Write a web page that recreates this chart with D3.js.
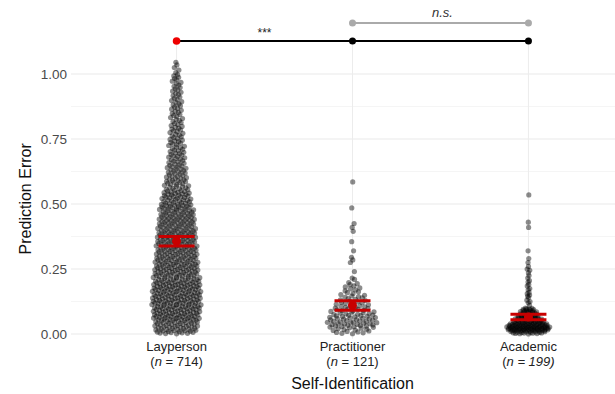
<!DOCTYPE html>
<html><head><meta charset="utf-8">
<script src="https://cdn.jsdelivr.net/npm/d3@7"></script>
<style>body{margin:0;background:#fff}svg{display:block}text{font-family:"Liberation Sans",Arial,sans-serif}</style>
</head><body><svg id="c" width="615" height="394"></svg>
<script>
// ---- data ----
const categories = ["Layperson", "Practitioner", "Academic"];
const groupSizes = ["714", "121", "199"];
const yTicks = [0, 0.25, 0.5, 0.75, 1.0];
// Layperson: histogram counts, bins of 0.05 starting at 0
const layBinWidth = 0.05;
const layCounts = [50, 61, 63, 62, 55, 53, 50, 48, 45, 42, 35, 26, 22, 19, 17, 15, 13, 12, 11, 10, 5];
// Practitioner: histogram of the bulk (bins of 0.025) + individually read tail points
const pracBinWidth = 0.025;
const pracCounts = [14, 22, 20, 16, 13, 10, 7, 6];
const pracTail = [0.585, 0.485, 0.425, 0.41, 0.395, 0.355, 0.32, 0.295, 0.285, 0.275, 0.24, 0.215, 0.21];
// Academic: histogram of the bulk (bins of 0.0125) + individually read tail points
const acadBinWidth = 0.0125;
const acadCounts = [20, 38, 34, 24, 18, 15, 12, 11];
const acadTail = [0.535, 0.43, 0.41, 0.32, 0.29, 0.275, 0.26, 0.25, 0.245, 0.235, 0.225, 0.215, 0.205, 0.2,
  0.19, 0.185, 0.175, 0.17, 0.16, 0.155, 0.15, 0.145, 0.14, 0.13, 0.125, 0.12, 0.11];
const sigLabels = ["***", "n.s."];

// ---- build value lists ----
function fromBins(counts, bw) {
  const out = [];
  counts.forEach((c, b) => { for (let j = 0; j < c; j++) out.push(b * bw + bw * (j + 0.5) / c); });
  return out;
}
const groups = [
  fromBins(layCounts, layBinWidth),
  fromBins(pracCounts, pracBinWidth).concat(pracTail),
  fromBins(acadCounts, acadBinWidth).concat(acadTail)
];

const svg = d3.select("#c");
const W = 615;
const panelL = 71, panelR = 634;
const x = d3.scalePoint().domain(categories).range([panelL, panelR]).padding(0.6);
const y = d3.scaleLinear().domain([0, 1]).range([334, 74]);
const panelTop = y(1.12), panelBot = y(-0.018);

// gridlines
const g = svg.append("g");
[0.125, 0.375, 0.625, 0.875].forEach(v => g.append("line")
  .attr("x1", panelL).attr("x2", W).attr("y1", y(v)).attr("y2", y(v))
  .attr("stroke", "#f2f2f2").attr("stroke-width", 0.8));
yTicks.forEach(v => g.append("line")
  .attr("x1", panelL).attr("x2", W).attr("y1", y(v)).attr("y2", y(v))
  .attr("stroke", "#e9e9e9").attr("stroke-width", 1));
categories.forEach(c => g.append("line")
  .attr("x1", x(c)).attr("x2", x(c)).attr("y1", panelTop).attr("y2", panelBot)
  .attr("stroke", "#ececec").attr("stroke-width", 1));

// y axis
const yAxis = svg.append("g").attr("transform", `translate(${panelL - 4},0)`)
  .call(d3.axisLeft(y).tickValues(yTicks).tickFormat(d3.format(".2f")).tickSize(0).tickPadding(0));
yAxis.select(".domain").remove();
yAxis.selectAll("text").attr("fill", "#4a4a4a").style("font-size", "13.5px")
  .style("font-family", "'Liberation Sans',Arial,sans-serif");

// quasirandom layout (offset width follows a boundary-reflected density)
function vdc(n) { let v = 0, d = 1; while (n > 0) { d *= 2; v += (n % 2) / d; n = Math.floor(n / 2); } return v; }
const bws = [0.045, 0.02, 0.011];
const maxHW = [25, 26, 22];
const pts = [];
groups.forEach((vals, gi) => {
  const sorted = vals.slice().sort((a, b) => a - b);
  const bw = bws[gi];
  const k = t => Math.exp(-0.5 * (t / bw) ** 2);
  const dens = sorted.map(v => d3.sum(sorted, u => k(v - u) + k(v + u)));
  const mx = d3.max(dens);
  sorted.forEach((v, i) => {
    const off = (vdc(i + 1) * 2 - 1) * maxHW[gi] * Math.pow(dens[i] / mx, 0.9);
    pts.push({ cat: categories[gi], v, off });
  });
});
svg.append("g").selectAll("circle").data(pts).join("circle")
  .attr("cx", d => x(d.cat) + d.off).attr("cy", d => y(d.v)).attr("r", 2.6)
  .attr("fill", "#000").attr("fill-opacity", 0.45);

// mean + 95% CI
const red = "#c80000";
const eb = svg.append("g");
groups.forEach((vals, gi) => {
  const m = d3.mean(vals), se = d3.deviation(vals) / Math.sqrt(vals.length);
  const lo = m - 1.96 * se, hi = m + 1.96 * se, cx = x(categories[gi]);
  eb.append("line").attr("x1", cx).attr("x2", cx).attr("y1", y(lo)).attr("y2", y(hi)).attr("stroke", red).attr("stroke-width", 3);
  [lo, hi].forEach(v => eb.append("line").attr("x1", cx - 18).attr("x2", cx + 18).attr("y1", y(v)).attr("y2", y(v))
    .attr("stroke", red).attr("stroke-width", 3));
  eb.append("circle").attr("cx", cx).attr("cy", y(m)).attr("r", 4.5).attr("fill", red);
});

// significance brackets
const b1 = y(1.127), b2 = y(1.196);
svg.append("line").attr("x1", x(categories[1])).attr("x2", x(categories[2])).attr("y1", b2).attr("y2", b2)
  .attr("stroke", "#aaaaaa").attr("stroke-width", 2);
[1, 2].forEach(i => svg.append("circle").attr("cx", x(categories[i])).attr("cy", b2).attr("r", 3.5).attr("fill", "#aaaaaa"));
svg.append("line").attr("x1", x(categories[0])).attr("x2", x(categories[2])).attr("y1", b1).attr("y2", b1)
  .attr("stroke", "#000").attr("stroke-width", 2);
[1, 2].forEach(i => svg.append("circle").attr("cx", x(categories[i])).attr("cy", b1).attr("r", 3.5).attr("fill", "#000"));
svg.append("circle").attr("cx", x(categories[0])).attr("cy", b1).attr("r", 3.8).attr("fill", "#ee0000");
svg.append("text").attr("x", (x(categories[0]) + x(categories[1])) / 2).attr("y", b1 - 4)
  .attr("text-anchor", "middle").style("font-size", "12px").attr("fill", "#222").text(sigLabels[0]);
svg.append("text").attr("x", (x(categories[1]) + x(categories[2])) / 2 + 2).attr("y", b2 - 6)
  .attr("text-anchor", "middle").style("font-size", "13px").style("font-style", "italic").attr("fill", "#333").text(sigLabels[1]);

// x labels
categories.forEach((c, i) => {
  svg.append("text").attr("x", x(c)).attr("y", 351).attr("text-anchor", "middle")
    .style("font-size", "13px").attr("fill", "#222").text(c);
  const t = svg.append("text").attr("x", x(c)).attr("y", 366).attr("text-anchor", "middle")
    .style("font-size", "13px").attr("fill", "#222");
  const allItalic = i === 2;
  t.append("tspan").text("(");
  t.append("tspan").style("font-style", "italic").text("n");
  t.append("tspan").style("font-style", allItalic ? "italic" : "normal").text(" = " + groupSizes[i] + ")");
});

// axis titles
svg.append("text").attr("x", (panelL + panelR) / 2).attr("y", 389).attr("text-anchor", "middle")
  .style("font-size", "16px").attr("fill", "#111").text("Self-Identification");
svg.append("text").attr("transform", `translate(31,${y(0.52)}) rotate(-90)`).attr("text-anchor", "middle")
  .style("font-size", "16px").attr("fill", "#111").text("Prediction Error");
</script></body></html>
